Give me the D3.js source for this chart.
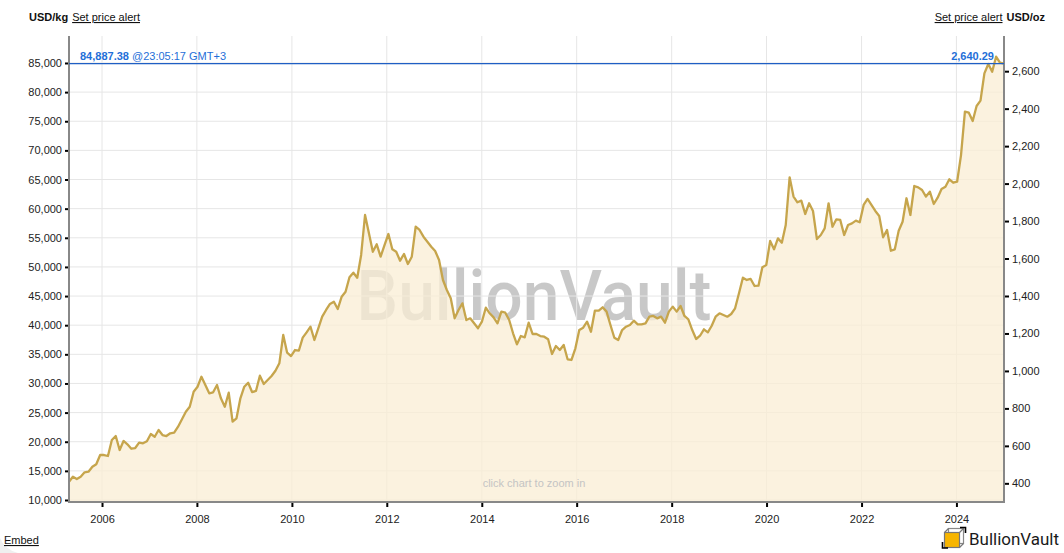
<!DOCTYPE html>
<html><head><meta charset="utf-8">
<script src="https://cdn.jsdelivr.net/npm/d3@7"></script>
<style>
html,body{margin:0;padding:0;background:#fff;}
svg{display:block;font-family:"Liberation Sans",Arial,sans-serif;}
</style></head>
<body>
<svg id="chart" width="1064" height="553"></svg>
<script>
// ---- data ----
const startDate = "2005-04-22";
const endDate = "2024-12-31";
// gold price, USD per kg, roughly monthly from start to end
const priceKg = [
13140,14000,13600,14000,14750,14860,15700,16130,17720,17720,17550,20300,20980,18580,20130,19560,18800,18920,19840,19730,
20070,21330,20860,22010,21150,20980,21450,21550,22580,23850,25150,26010,28590,29440,31160,29740,28310,28480,29740,27450,
26010,28410,23440,24020,27450,29440,30130,
28530,28710,31330,29910,30590,31280,32190,33460,38320,35280,34710,35740,35620,37860,38780,39740,37460,39470,41460,42610,
43640,44030,42780,44890,45750,48220,49010,48150,52050,58910,55770,52610,53880,51760,53760,55650,53020,52610,51070,52220,
50500,51760,56900,56340,55190,
54330,53470,52730,51190,47760,46040,44620,41180,42610,43750,40890,41180,40320,39470,40600,43000,42040,41350,40320,42330,
42150,40890,38610,36720,38140,37920,40430,38490,38490,38140,38020,37580,35060,36430,35740,36600,34150,34030,36040,39170,
39570,40600,38880,42490,
42490,43070,42330,40030,37850,37460,39170,39740,40030,40770,40150,40150,40320,41460,41580,41180,41460,40430,42330,43180,
42330,43290,41580,41010,39170,37630,38190,39290,38780,39910,41460,42040,41750,41460,41920,42900,45470,48150,47760,47930,
46730,46780,49940,50330,54450,53020,54900,
54160,57190,65380,62070,61090,61370,59080,60920,59600,54790,55480,56620,60920,56900,58170,58060,55480,57190,57480,57940,
57660,60630,61660,60630,59600,58740,55080,56340,52780,53020,56220,57760,61780,58910,63890,63660,63200,62070,62910,60800,
61880,63370,
63770,65040,64450,64620,69200,76640,76470,75040,77620,78530,83220,84820,83500,86080,85050,84887.38
];
const lastKg = 84887.38;
const lastOz = 2640.29;
const lastTime = "@23:05:17 GMT+3";
const yearTicks = [2006,2008,2010,2012,2014,2016,2018,2020,2022,2024];
const kgTicks = [10000,15000,20000,25000,30000,35000,40000,45000,50000,55000,60000,65000,70000,75000,80000,85000];
const ozTicks = [400,600,800,1000,1200,1400,1600,1800,2000,2200,2400,2600];
const OZ_PER_KG = 32.1507466;

// ---- layout ----
const L = 69, R = 1004, T = 36, B = 502;
const svg = d3.select("#chart");
const parse = d3.timeParse("%Y-%m-%d");
const t0 = parse(startDate), t1 = parse(endDate);
const x = d3.scaleTime().domain([t0, new Date(2025,0,1)]).range([L, R]);
const y = d3.scaleLinear().domain([9657, 89630]).range([B, T]);
const yOz = d3.scaleLinear().domain([9657/OZ_PER_KG, 89630/OZ_PER_KG]).range([B, T]);
const idx = d3.scaleLinear().domain([0, priceKg.length-1]).range([t0.getTime(), t1.getTime()]);
const data = priceKg.map((v,i)=>({d:new Date(idx(i)), v}));

// faint corner shadow
svg.append("path").attr("d","M0,538 Q4,549 18,553 L0,553 Z").attr("fill","#efefef");

// watermark
svg.append("text").attr("x",534).attr("y",320).attr("text-anchor","middle")
  .attr("font-family","Roboto, 'Liberation Sans', sans-serif").attr("font-weight",500)
  .attr("font-size",71).attr("textLength",355).attr("lengthAdjust","spacingAndGlyphs")
  .attr("fill","rgba(0,0,0,0.215)").text("BullionVault");

// gridlines
const g = svg.append("g");
g.selectAll(".hg").data(kgTicks).join("line")
  .attr("x1",L).attr("x2",R).attr("y1",d=>y(d)).attr("y2",d=>y(d))
  .attr("stroke","#e6e6e6").attr("stroke-width",1);
g.selectAll(".vg").data(yearTicks).join("line")
  .attr("x1",d=>x(new Date(d,0,1))).attr("x2",d=>x(new Date(d,0,1))).attr("y1",T).attr("y2",B)
  .attr("stroke","#e6e6e6").attr("stroke-width",1);

// area + line
const area = d3.area().x(d=>x(d.d)).y0(B).y1(d=>y(d.v));
svg.append("path").datum(data).attr("d",area).attr("fill","rgb(250,238,212)").attr("fill-opacity",0.75);
const line = d3.line().x(d=>x(d.d)).y(d=>y(d.v));
svg.append("path").datum(data).attr("d",line).attr("fill","none")
  .attr("stroke","#c6a54c").attr("stroke-width",2.3).attr("stroke-linejoin","round");

// axes
const fmt = d3.format(",");
const axL = svg.append("g").attr("transform",`translate(${L},0)`)
  .call(d3.axisLeft(y).tickValues(kgTicks).tickSize(4).tickPadding(3).tickFormat(fmt));
const axR = svg.append("g").attr("transform",`translate(${R},0)`)
  .call(d3.axisRight(yOz).tickValues(ozTicks).tickSize(5).tickPadding(3).tickFormat(fmt));
const axB = svg.append("g").attr("transform",`translate(0,${B})`)
  .call(d3.axisBottom(x).tickValues(yearTicks.map(d=>new Date(d,0,1))).tickSize(5).tickPadding(6).tickFormat(d3.timeFormat("%Y")));
[axL,axR,axB].forEach(a=>{
  a.select(".domain").remove();
  a.selectAll(".tick line").attr("stroke","#000").attr("stroke-width",2);
  a.selectAll(".tick text").attr("font-size",11).attr("fill","#222").attr("font-family","Liberation Sans,Arial,sans-serif");
});
axB.selectAll(".tick text").attr("dy","0.9em");
// axis lines
svg.append("line").attr("x1",L).attr("x2",L).attr("y1",T).attr("y2",B+1).attr("stroke","#888").attr("stroke-width",2);
svg.append("line").attr("x1",R).attr("x2",R).attr("y1",T).attr("y2",B+1).attr("stroke","#888").attr("stroke-width",2);
svg.append("line").attr("x1",L-1).attr("x2",R+1).attr("y1",B).attr("y2",B).attr("stroke","#888").attr("stroke-width",2);

// current price line
svg.append("line").attr("x1",L).attr("x2",R).attr("y1",y(lastKg)).attr("y2",y(lastKg))
  .attr("stroke","#1f5fc4").attr("stroke-width",1.2);
const blue = "#1f6fd8";
const lt = svg.append("text").attr("x",80).attr("y",y(lastKg)-3.5).attr("font-size",11).attr("fill",blue);
lt.append("tspan").attr("font-weight","bold").text(d3.format(",.2f")(lastKg));
lt.append("tspan").text(" " + lastTime);
svg.append("text").attr("x",994).attr("y",y(lastKg)-3.5).attr("font-size",11).attr("fill",blue)
  .attr("font-weight","bold").attr("text-anchor","end").text(d3.format(",.2f")(lastOz));

// headers
const h1 = svg.append("text").attr("x",29).attr("y",21).attr("font-size",11).attr("fill","#111");
h1.append("tspan").attr("font-weight","bold").text("USD/kg");
h1.append("tspan").attr("dx",4).attr("text-decoration","underline").text("Set price alert");
const h2 = svg.append("text").attr("x",1045).attr("y",21).attr("font-size",11).attr("fill","#111").attr("text-anchor","end");
h2.append("tspan").attr("text-decoration","underline").text("Set price alert");
h2.append("tspan").attr("dx",4).attr("font-weight","bold").text("USD/oz");

// hint
svg.append("text").attr("x",534).attr("y",487).attr("text-anchor","middle").attr("font-size",11)
  .attr("fill","#c4c4c4").text("click chart to zoom in");

// embed
svg.append("text").attr("x",4).attr("y",544).attr("font-size",11).attr("fill","#111")
  .attr("text-decoration","underline").text("Embed");

// logo
const lg = svg.append("g");
lg.append("rect").attr("x",948.5).attr("y",528.5).attr("width",15).attr("height",15).attr("fill","none").attr("stroke","#888").attr("stroke-width",1.2);
lg.append("rect").attr("x",944.5).attr("y",532.5).attr("width",15).attr("height",15).attr("fill","#f7b500").attr("stroke","#777").attr("stroke-width",1.2);
lg.append("path").attr("d","M944.5,532.5L948.5,528.5M959.5,532.5L963.5,528.5M959.5,547.5L963.5,543.5").attr("stroke","#777").attr("stroke-width",1.2);
lg.append("path").attr("d","M960,527.5H965.5V533M942.5,542V548H948").attr("fill","none").attr("stroke","#000").attr("stroke-width",1.6);
lg.append("text").attr("x",969).attr("y",545).attr("font-size",17).attr("fill","#1a1a1a")
  .attr("font-family","Roboto, 'Liberation Sans', sans-serif")
  .attr("textLength",90).attr("lengthAdjust","spacingAndGlyphs").text("BullionVault");
</script>
</body></html>
